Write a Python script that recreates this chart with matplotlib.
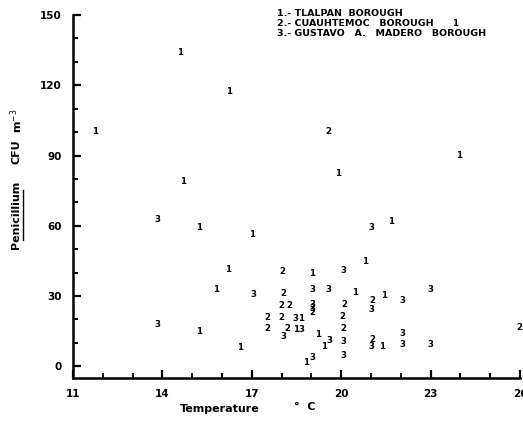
import matplotlib
matplotlib.use("Agg")
import matplotlib.pyplot as plt
from matplotlib.ticker import MultipleLocator
from matplotlib.lines import Line2D

# Borough 1: Tlalpan
t1 = [11.74, 14.59, 16.23, 14.69, 15.23, 17.01, 16.20, 15.80, 15.23, 16.60,
      19.89, 23.95, 23.82, 21.67, 20.80, 19.02, 20.46, 21.44, 18.65, 18.48,
      19.22, 19.42, 21.37, 18.82]
v1 = [100.4, 133.8, 117.5, 79.1, 59.4, 56.4, 41.5, 32.9, 15.0, 8.1,
      82.5, 90.2, 146.2, 62.0, 44.9, 39.7, 31.6, 30.3, 20.5, 15.8,
      13.7, 8.5, 8.5, 1.7]
# Borough 2: Cuauhtemoc
t2 = [19.56, 18.01, 18.05, 21.03, 17.98, 18.25, 19.02, 20.09, 20.03, 17.51,
      17.98, 17.51, 18.21, 20.06, 21.03, 25.97]
v2 = [100.4, 40.6, 31.2, 28.2, 26.1, 26.1, 23.1, 26.5, 21.4, 20.9,
      20.9, 16.2, 16.2, 16.2, 11.5, 16.7]
# Borough 3: Gustavo A. Madero
t3 = [13.85, 17.07, 13.85, 21.03, 20.06, 19.02, 19.56, 23.01, 22.07, 21.03,
      19.02, 19.02, 18.45, 18.65, 18.05, 19.59, 20.06, 21.03, 22.07, 22.07,
      23.01, 19.05, 20.06]
v3 = [62.8, 30.8, 17.9, 59.4, 41.0, 32.9, 32.9, 32.9, 28.2, 24.4,
      26.5, 24.8, 20.5, 15.8, 12.8, 11.1, 10.7, 8.5, 14.1, 9.4,
      9.4, 3.8, 4.7]

legend_lines = ["1.- TLALPAN  BOROUGH",
                "2.- CUAUHTEMOC   BOROUGH",
                "3.- GUSTAVO   A.   MADERO   BOROUGH"]
x_ticks = [11, 14, 17, 20, 23, 26]
y_ticks = [0, 30, 60, 90, 120, 150]

W, H = 523, 432
fig = plt.figure(figsize=(W / 100, H / 100), dpi=100)
ax = fig.add_axes([73 / W, 1 - 378 / H, (520 - 73) / W, (378 - 15) / H])

ax.set_xlim(11, 26)
ax.set_ylim(-5, 150)

for ts, vs, lab in ((t1, v1, "1"), (t2, v2, "2"), (t3, v3, "3")):
    for t, v in zip(ts, vs):
        ax.text(t, v, lab, fontsize=6.2, fontweight="heavy", ha="center",
                va="center", color="black")

for s in ("top", "right"):
    ax.spines[s].set_visible(False)
for s in ("left", "bottom"):
    ax.spines[s].set_linewidth(1.8)

ax.set_xticks(x_ticks)
ax.set_yticks(y_ticks)
ax.xaxis.set_minor_locator(MultipleLocator(1))
ax.yaxis.set_minor_locator(MultipleLocator(10))
ax.tick_params(axis="both", which="major", direction="in", length=6, width=1.6,
               labelsize=7.5, pad=8)
ax.tick_params(axis="both", which="minor", direction="in", length=3.5, width=1.4)
for lbl in ax.get_xticklabels() + ax.get_yticklabels():
    lbl.set_fontweight("bold")

# y-axis label pieces
fig.text(16 / W, 1 - 215 / H, "Penicillium", rotation=90, ha="center",
         va="center", fontsize=8, fontweight="bold")
fig.add_artist(Line2D([23 / W, 23 / W], [1 - 240 / H, 1 - 190 / H],
                      transform=fig.transFigure, color="black", lw=1.0))
fig.text(17 / W, 1 - 152 / H, "CFU", rotation=90, ha="center", va="center",
         fontsize=8, fontweight="bold")
fig.text(17 / W, 1 - 121 / H, "m$^{-3}$", rotation=90, ha="center",
         va="center", fontsize=8, fontweight="bold")

# x-axis label
fig.text(220 / W, 1 - 409 / H, "Temperature", ha="center", va="center",
         fontsize=8, fontweight="bold")
fig.text(305 / W, 1 - 407 / H, "°  C", ha="center", va="center",
         fontsize=8, fontweight="bold")

# legend text
for i, line in enumerate(legend_lines):
    fig.text(277 / W, 1 - (14 + 9.5 * i) / H, line, ha="left", va="center",
             fontsize=6.8, fontweight="bold")

fig.savefig("out.png", dpi=100, facecolor="white")
